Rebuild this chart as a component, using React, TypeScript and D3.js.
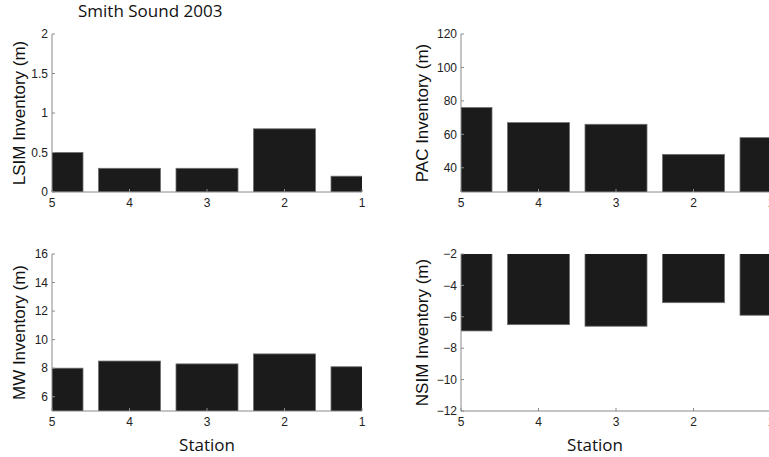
import React from "react";
import * as d3 from "d3";

// Stations, ordered as drawn from left to right
const stations = [5, 4, 3, 2, 1];

// Inventory values per station (m)
const lsimValues = [0.5, 0.3, 0.3, 0.8, 0.2];
const pacValues = [76, 67, 66, 48, 58];
const mwValues = [8.0, 8.5, 8.3, 9.0, 8.1];
const nsimValues = [-6.9, -6.5, -6.6, -5.1, -5.9];

// Axis ranges and tick labels
const lsimDomain = [0, 2];
const lsimTicks = [0, 0.5, 1, 1.5, 2];
const pacDomain = [25.5, 120];
const pacTicks = [40, 60, 80, 100, 120];
const mwDomain = [5, 16];
const mwTicks = [6, 8, 10, 12, 14, 16];
const nsimDomain = [-12, -2];
const nsimTicks = [-12, -10, -8, -6, -4, -2];

const W = 769;
const H = 457;
const AXIS = "#8a8a8a";
const BAR = "#1b1b1b";
const TICK_FONT = "'Liberation Sans', Arial, Helvetica, sans-serif";
const TITLE_FONT = "'Open Sans', 'Noto Sans', sans-serif";

type PanelProps = {
  id: string;
  left: number;
  top: number;
  bottom: number;
  values: number[];
  domain: number[];
  ticks: number[];
  label: string;
  labelX: number;
  xLabel?: string;
  xLabelX?: number;
};

function fmt(v: number) {
  return v < 0 ? "\u2212" + String(Math.abs(v)) : String(v);
}

function Panel(p: PanelProps) {
  const spacing = 77.5;
  const x = d3
    .scaleLinear()
    .domain([5, 1])
    .range([p.left, p.left + spacing * 4]);
  const y = d3.scaleLinear().domain(p.domain).range([p.bottom, p.top]);
  const barW = spacing * 0.8;
  const right = p.left + spacing * 4;
  const base = y(0);
  return (
    <g>
      <defs>
        <clipPath id={p.id}>
          <rect x={p.left} y={p.top} width={right - p.left} height={p.bottom - p.top} />
        </clipPath>
      </defs>
      <g clipPath={`url(#${p.id})`}>
        {p.values.map((v, i) => {
          const cx = x(stations[i]);
          const yv = y(v);
          return (
            <rect
              key={i}
              x={cx - barW / 2}
              y={Math.min(yv, base)}
              width={barW}
              height={Math.abs(yv - base)}
              fill={BAR}
              stroke="#6f6f6f"
              strokeWidth={0.8}
            />
          );
        })}
      </g>
      {/* axes: left and bottom only, ticks pointing inward */}
      <line x1={p.left} x2={p.left} y1={p.top} y2={p.bottom} stroke={AXIS} strokeWidth={1} />
      <line x1={p.left} x2={right} y1={p.bottom} y2={p.bottom} stroke={AXIS} strokeWidth={1} />
      {p.ticks.map((t) => (
        <g key={"y" + t}>
          <line x1={p.left} x2={p.left + 3} y1={y(t)} y2={y(t)} stroke={AXIS} />
          <text
            x={p.left - 4}
            y={y(t)}
            dy="0.35em"
            textAnchor="end"
            fontFamily={TICK_FONT}
            fontSize={12}
            fill="#222"
          >
            {fmt(t)}
          </text>
        </g>
      ))}
      {stations.map((s) => (
        <g key={"x" + s}>
          <line x1={x(s)} x2={x(s)} y1={p.bottom} y2={p.bottom - 3} stroke={AXIS} />
          <text
            x={x(s)}
            y={p.bottom + 11}
            dy="0.35em"
            textAnchor="middle"
            fontFamily={TICK_FONT}
            fontSize={12}
            fill="#222"
          >
            {s}
          </text>
        </g>
      ))}
      <text
        transform={`translate(${p.labelX},${(p.top + p.bottom) / 2}) rotate(-90)`}
        textAnchor="middle"
        dy="0.35em"
        fontFamily={TICK_FONT}
        fontSize={17}
        fill="#111"
      >
        {p.label}
      </text>
      {p.xLabel && (
        <text
          x={p.xLabelX}
          y={451}
          textAnchor="middle"
          fontFamily={TITLE_FONT}
          fontSize={17}
          fill="#111"
        >
          {p.xLabel}
        </text>
      )}
    </g>
  );
}

export default function App() {
  return (
    <svg
      width={W}
      height={H}
      style={{ position: "absolute", left: 0, top: 0, background: "#fff" }}
    >
      <rect width={W} height={H} fill="#fff" />
      <text x={78} y={17} fontFamily={TITLE_FONT} fontSize={17} fill="#111">
        Smith Sound 2003
      </text>
      <Panel
        id="c1"
        left={52}
        top={34}
        bottom={192}
        values={lsimValues}
        domain={lsimDomain}
        ticks={lsimTicks}
        label="LSIM Inventory (m)"
        labelX={19}
      />
      <Panel
        id="c2"
        left={461}
        top={34}
        bottom={192}
        values={pacValues}
        domain={pacDomain}
        ticks={pacTicks}
        label="PAC Inventory (m)"
        labelX={422}
      />
      <Panel
        id="c3"
        left={52}
        top={254}
        bottom={411}
        values={mwValues}
        domain={mwDomain}
        ticks={mwTicks}
        label="MW Inventory (m)"
        labelX={19}
        xLabel="Station"
        xLabelX={207}
      />
      <Panel
        id="c4"
        left={461}
        top={254}
        bottom={411}
        values={nsimValues}
        domain={nsimDomain}
        ticks={nsimTicks}
        label="NSIM Inventory (m)"
        labelX={422}
        xLabel="Station"
        xLabelX={595}
      />
    </svg>
  );
}
